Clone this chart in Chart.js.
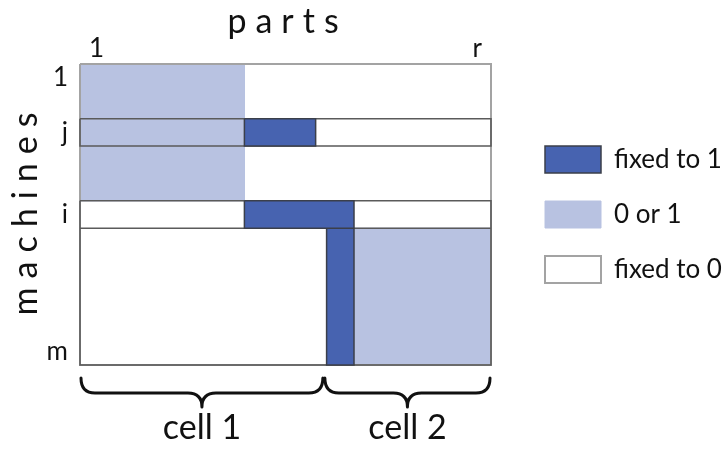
<!DOCTYPE html>
<html>
<head>
<meta charset="utf-8">
<script src="https://cdn.jsdelivr.net/npm/chart.js@4.4.1/dist/chart.umd.min.js"></script>
<style>
  html, body { margin: 0; padding: 0; background: #fff; }
</style>
</head>
<body>
<canvas id="cellChart" width="726" height="450"></canvas>
<script>
// grid size of the part-machine matrix
const partCount = 30;
const machineCount = 22;

const legendLabels = ['fixed to 1', '0 or 1', 'fixed to 0'];

// blocks: [fromPart, toPart, fromMachine, toMachine]
const fixedOneBlocks = [[12, 17.2, 4, 6], [12, 20, 10, 12], [18, 20, 12, 22]];
const freeBlocks = [[0, 12, 0, 10], [20, 30, 12, 22]];
const fixedZeroBlocks = [[0, 30, 0, 22]];
const rowBlocks = [[0, 30, 4, 6], [0, 30, 10, 12], [0, 30, 12, 22]];

const partTicks = [1.2, 29];
const partLabels = ['1', 'r'];
const machineTicks = [1, 5, 11, 21];
const machineLabels = ['1', 'j', 'i', 'm'];

const cells = [[0, 17.8], [17.8, 30]];
const cellLabels = ['cell 1', 'cell 2'];

const DARK = '#4763b0';
const LIGHT = '#b8c2e1';
const INK = '#111';

// each block becomes a closed outline, blocks split by a gap point
function outline(blocks) {
  const pts = [];
  blocks.forEach(([x0, x1, y0, y1]) => {
    pts.push({x: x0, y: y0}, {x: x1, y: y0}, {x: x1, y: y1}, {x: x0, y: y1}, {x: x0, y: y0});
    pts.push({x: null, y: null});
  });
  return pts;
}

function blockSet(label, blocks, fill, border, width, filled) {
  return {
    label: label,
    data: outline(blocks),
    backgroundColor: fill,
    borderColor: border,
    borderWidth: width,
    fill: filled ? 'shape' : false,
    tension: 0,
    spanGaps: false,
    pointRadius: 0,
    pointHoverRadius: 0,
    borderJoinStyle: 'miter',
    clip: false,
    xAxisID: 'x',
    yAxisID: 'y'
  };
}

const decor = {
  id: 'decor',
  afterDraw(chart) {
    const {ctx, chartArea: a, scales: {x}} = chart;
    ctx.save();
    ctx.fillStyle = INK;
    ctx.font = '34px Lato';
    ctx.letterSpacing = '9px';
    ctx.textAlign = 'center';
    ctx.textBaseline = 'alphabetic';
    ctx.fillText('parts', (a.left + a.right) / 2 + 2, a.top - 31);
    ctx.translate(a.left - 43, (a.top + a.bottom) / 2);
    ctx.rotate(-Math.PI / 2);
    ctx.fillText('machines', 5, 0);
    ctx.restore();

    // curly braces under the cells
    ctx.save();
    ctx.strokeStyle = INK;
    ctx.lineWidth = 3;
    ctx.lineCap = 'round';
    ctx.lineJoin = 'round';
    const yTop = a.bottom + 13, yMid = a.bottom + 28, yTip = a.bottom + 42, r = 14;
    cells.forEach(([c0, c1]) => {
      const x0 = x.getPixelForValue(c0) + 1;
      const x1 = x.getPixelForValue(c1) - 1;
      const m = (x0 + x1) / 2;
      ctx.beginPath();
      ctx.moveTo(x0, yTop);
      ctx.quadraticCurveTo(x0, yMid, x0 + r, yMid);
      ctx.lineTo(m - r, yMid);
      ctx.quadraticCurveTo(m, yMid, m, yTip);
      ctx.quadraticCurveTo(m, yMid, m + r, yMid);
      ctx.lineTo(x1 - r, yMid);
      ctx.quadraticCurveTo(x1, yMid, x1, yTop);
      ctx.stroke();
    });
    ctx.restore();
  }
};

const tickFont = {family: 'Lato', size: 26};

new Chart(document.getElementById('cellChart'), {
  type: 'line',
  data: {
    // first dataset is drawn last (on top)
    datasets: [
      blockSet(legendLabels[0], fixedOneBlocks, DARK, '#3b3f4a', 1.5, true),
      blockSet('rows', rowBlocks, 'rgba(0,0,0,0)', '#5a5a5a', 1.5, false),
      blockSet(legendLabels[2], fixedZeroBlocks, '#ffffff', '#a3a3a3', 2, false),
      blockSet(legendLabels[1], freeBlocks, LIGHT, LIGHT, 1, true)
    ]
  },
  options: {
    responsive: false,
    animation: false,
    events: [],
    layout: {
      padding: {left: 0, top: 0, right: 0, bottom: 0}
    },
    plugins: {
      tooltip: {enabled: false},
      legend: {
        position: 'right',
        fullSize: false,
        maxWidth: 209,
        labels: {
          boxWidth: 56,
          boxHeight: 27,
          padding: 28,
          color: INK,
          font: {family: 'Lato', size: 26},
          filter: (item) => legendLabels.includes(item.text),
          sort: (a, b) => legendLabels.indexOf(a.text) - legendLabels.indexOf(b.text)
        }
      }
    },
    scales: {
      x: {
        type: 'linear',
        position: 'top',
        min: 0,
        max: partCount,
        grid: {display: false, drawTicks: false},
        border: {display: false},
        afterBuildTicks: (s) => { s.ticks = partTicks.map(v => ({value: v})); },
        afterFit: (s) => { s.height = 64; },
        ticks: {
          autoSkip: false,
          maxRotation: 0,
          padding: 0,
          color: INK,
          font: tickFont,
          callback: (v, i) => partLabels[i]
        }
      },
      x2: {
        type: 'linear',
        position: 'bottom',
        min: 0,
        max: partCount,
        grid: {display: false, drawTicks: false},
        border: {display: false},
        afterBuildTicks: (s) => { s.ticks = cells.map(c => ({value: (c[0] + c[1]) / 2})); },
        afterFit: (s) => { s.height = 85; },
        ticks: {
          autoSkip: false,
          maxRotation: 0,
          padding: 43,
          color: INK,
          font: {family: 'Lato', size: 34},
          callback: (v, i) => cellLabels[i]
        }
      },
      y: {
        type: 'linear',
        position: 'left',
        reverse: true,
        min: 0,
        max: machineCount,
        grid: {display: false, drawTicks: false},
        border: {display: false},
        afterBuildTicks: (s) => { s.ticks = machineTicks.map(v => ({value: v})); },
        afterFit: (s) => { s.width = 80; },
        ticks: {
          autoSkip: false,
          padding: 12,
          color: INK,
          font: tickFont,
          callback: (v, i) => machineLabels[i]
        }
      },
      y2: {
        type: 'linear',
        position: 'right',
        grid: {display: false, drawTicks: false},
        border: {display: false},
        ticks: {display: false},
        afterFit: (s) => { s.width = 26; }
      }
    }
  },
  plugins: [decor]
});
</script>
</body>
</html>
